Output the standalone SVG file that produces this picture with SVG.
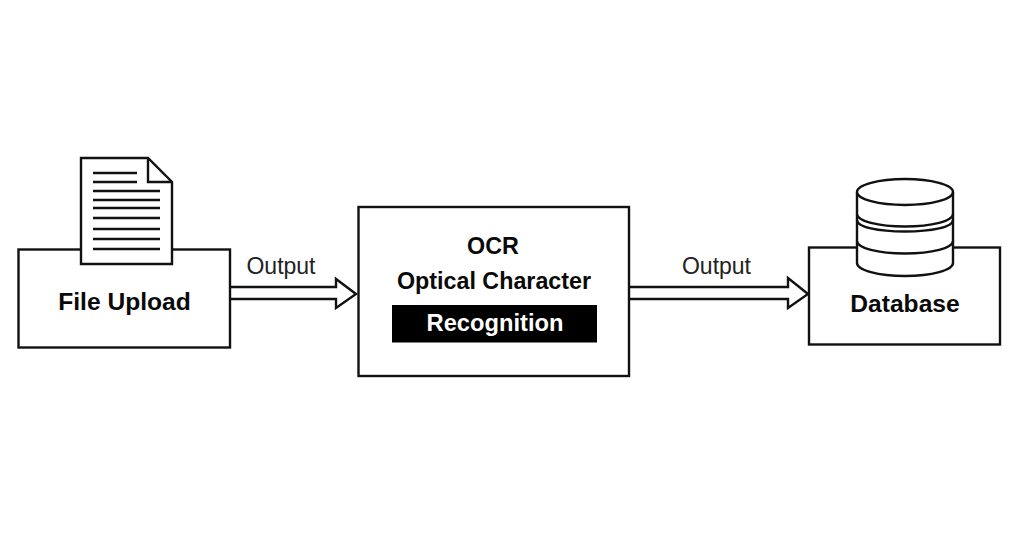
<svg xmlns="http://www.w3.org/2000/svg" width="1024" height="559" viewBox="0 0 1024 559">
<style>
.s{fill:#fff;stroke:#111;stroke-width:2.4}
.l{fill:none;stroke:#111;stroke-width:2.4}
.t{font-family:"Liberation Sans",Arial,sans-serif;font-size:23.300px;font-weight:700;fill:#0a0a0a;text-anchor:middle}
.b{font-size:24.600px}
.o{font-family:"Liberation Sans",Arial,sans-serif;font-size:23px;fill:#222;text-anchor:middle}
</style>
<rect width="1024" height="559" fill="#fff"/>
<g id="connectors">
<path class="s" d="M230 287H336V279L356 294L336 308V299H230"/>
<path class="s" d="M629 287H788V278L808 294L788 308V299H629"/>
<text class="o" x="281" y="274">Output</text>
<text class="o" x="716.500" y="274">Output</text>
</g>
<g id="file-upload">
<rect class="s" x="18.500" y="249.500" width="211.500" height="98"/>
<path class="s" d="M81 158H148L172 182V264H81Z"/>
<path class="l" d="M148 158V182H172"/>
<path class="l" d="M93 173H137M93 182H137M93 191H160M93 200H160M93 208H160M93 218H160M93 229H160M93 239H160M93 249H160"/>
<text class="t b" x="124.500" y="309.500">File Upload</text>
</g>
<g id="ocr">
<rect class="s" x="358.500" y="207" width="270.500" height="169"/>
<rect x="392" y="305" width="205" height="37.500" fill="#000"/>
<text class="t" x="493" y="254">OCR</text>
<text class="t" x="494" y="289">Optical Character</text>
<text class="t" x="495" y="330.500" style="fill:#fff;font-size:23.700px">Recognition</text>
</g>
<g id="database">
<rect class="s" x="809" y="247.500" width="191" height="97"/>
<path class="s" d="M857 192V263C857 270 878 276 905 276C932 276 953 270 953 263V192"/>
<ellipse class="s" cx="905" cy="192" rx="48" ry="13"/>
<path class="l" d="M857 214C857 221 878 226.500 905 226.500C932 226.500 953 221 953 214M857 220C857 227 878 231.500 905 231.500C932 231.500 953 227 953 220M857 241C857 248 878 253.500 905 253.500C932 253.500 953 248 953 241"/>
<text class="t b" x="905" y="311.500">Database</text>
</g>
</svg>
